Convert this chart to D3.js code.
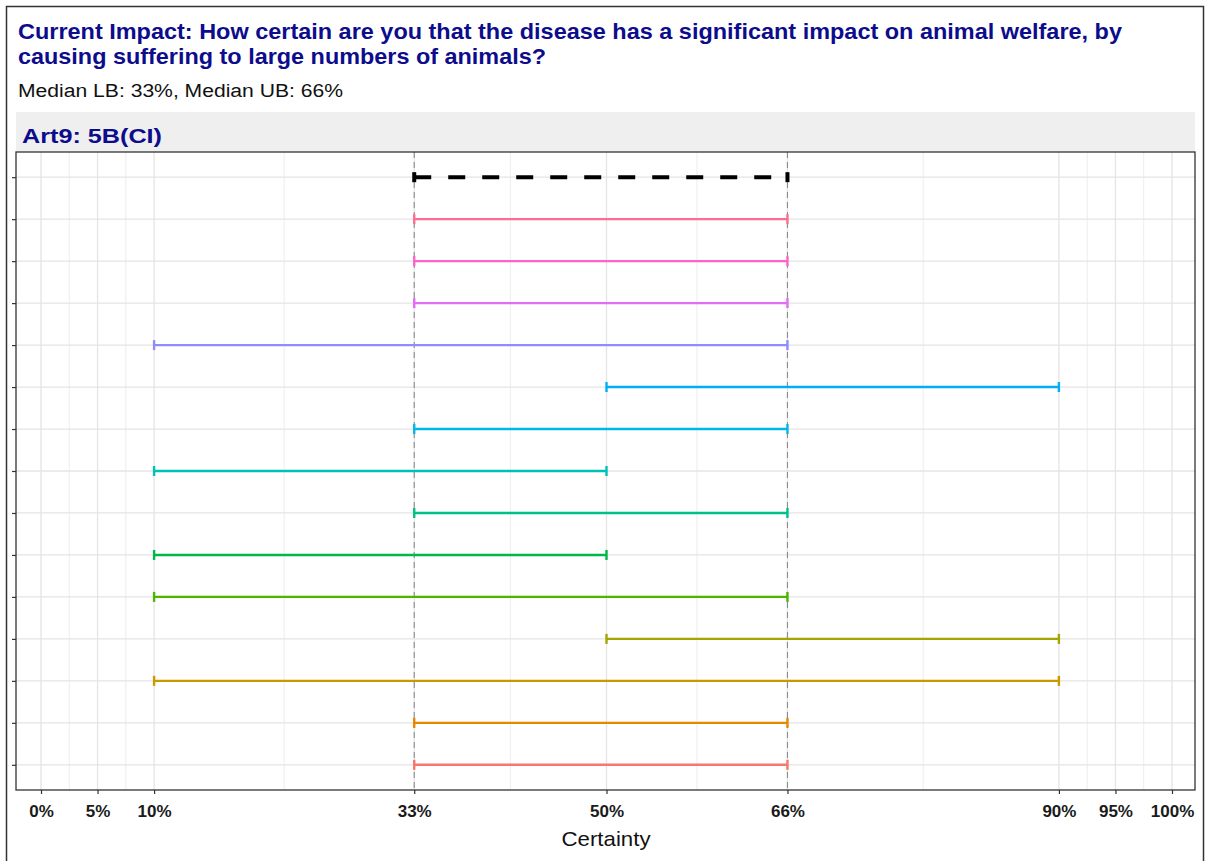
<!DOCTYPE html>
<html>
<head>
<meta charset="utf-8">
<script src="https://cdn.jsdelivr.net/npm/d3@7"></script>
<style>
  html, body { margin: 0; padding: 0; background: #fff; }
  svg { display: block; font-family: "Liberation Sans", Arial, sans-serif; }
</style>
</head>
<body>
<svg id="chart" width="1205" height="861"></svg>
<script>
// Rows, top to bottom: the median interval first, then each expert's interval.
const rowIds = ["median", "e14", "e13", "e12", "e11", "e10", "e9", "e8", "e7", "e6", "e5", "e4", "e3", "e2", "e1"];
const lowerBounds = [33, 33, 33, 33, 10, 50, 33, 10, 33, 10, 10, 50, 10, 33, 33];
const upperBounds = [66, 66, 66, 66, 66, 90, 66, 50, 66, 50, 66, 90, 90, 66, 66];
const rowColors = ["#000000", "#FF6C91", "#FF62C8", "#E46BF3", "#8F8CFF", "#00AEF8", "#00B8E5",
                   "#00C0B8", "#00C08A", "#00B84A", "#4DB400", "#A3A500", "#C99A00", "#E58700", "#F8766D"];
const xTickValues = [0, 5, 10, 33, 50, 66, 90, 95, 100];
const medianLB = 33, medianUB = 66;

const titleLines = [
  "Current Impact: How certain are you that the disease has a significant impact on animal welfare, by",
  "causing suffering to large numbers of animals?"
];
const subtitle = `Median LB: ${medianLB}%, Median UB: ${medianUB}%`;
const stripLabel = "Art9: 5B(CI)";
const xTitle = "Certainty";

const svg = d3.select("#chart");
const navy = "#0C0C8C";

// Outer frame
svg.append("path")
  .attr("d", "M6.5,870 V6.5 H1203.5 V870")
  .attr("fill", "none").attr("stroke", "#333").attr("stroke-width", 1.5);

// Titles
const titleWidths = [1104, 528];
svg.append("g").selectAll("text").data(titleLines).join("text")
  .attr("x", 18).attr("y", (d, i) => 39 + i * 24.5)
  .attr("fill", navy).attr("font-weight", "bold").attr("font-size", 21.5)
  .attr("textLength", (d, i) => titleWidths[i]).attr("lengthAdjust", "spacingAndGlyphs")
  .text(d => d);
svg.append("text").attr("x", 18).attr("y", 97)
  .attr("font-size", 18).attr("fill", "#111")
  .attr("textLength", 325).attr("lengthAdjust", "spacingAndGlyphs")
  .text(subtitle);

// Panel geometry
const panel = { left: 16, right: 1195, top: 152, bottom: 790 };

// Facet strip
svg.append("rect").attr("x", panel.left).attr("y", 112)
  .attr("width", panel.right - panel.left).attr("height", panel.top - 112)
  .attr("fill", "#EFEFEF");
svg.append("text").attr("x", 22).attr("y", 143)
  .attr("fill", navy).attr("font-weight", "bold").attr("font-size", 19.5)
  .attr("textLength", 140).attr("lengthAdjust", "spacingAndGlyphs")
  .text(stripLabel);

// Scales
const x = d3.scaleLinear().domain([0, 100]).range([41, 1172]);
const y = d3.scalePoint().domain(rowIds).range([panel.top, panel.bottom]).padding(0.6);

// Grid
const grid = svg.append("g");
const minorX = d3.pairs(xTickValues).map(([a, b]) => (a + b) / 2);
grid.selectAll("line.minor").data(minorX).join("line")
  .attr("x1", d => x(d)).attr("x2", d => x(d))
  .attr("y1", panel.top).attr("y2", panel.bottom)
  .attr("stroke", "#EDEDED").attr("stroke-width", 1);
grid.selectAll("line.majx").data(xTickValues).join("line")
  .attr("x1", d => x(d)).attr("x2", d => x(d))
  .attr("y1", panel.top).attr("y2", panel.bottom)
  .attr("stroke", "#E4E4E4").attr("stroke-width", 1.3);
grid.selectAll("line.majy").data(rowIds).join("line")
  .attr("x1", panel.left).attr("x2", panel.right)
  .attr("y1", d => y(d)).attr("y2", d => y(d))
  .attr("stroke", "#E4E4E4").attr("stroke-width", 1.3);

// Reference lines at the median bounds
svg.append("g").selectAll("line").data([medianLB, medianUB]).join("line")
  .attr("x1", d => x(d)).attr("x2", d => x(d))
  .attr("y1", panel.top).attr("y2", panel.bottom)
  .attr("stroke", "#8C8C8C").attr("stroke-width", 1.1)
  .attr("stroke-dasharray", "6,4");

// Interval bars
const rows = rowIds.map((id, i) => ({ id, lo: lowerBounds[i], hi: upperBounds[i], color: rowColors[i], median: id === "median" }));
const bars = svg.append("g").selectAll("g").data(rows).join("g");
bars.append("line")
  .attr("x1", d => x(d.lo)).attr("x2", d => x(d.hi))
  .attr("y1", d => y(d.id)).attr("y2", d => y(d.id))
  .attr("stroke", d => d.color)
  .attr("stroke-width", d => d.median ? 4 : 2.4)
  .attr("stroke-dasharray", d => d.median ? "17,17" : null);
bars.selectAll("line.cap").data(d => [d.lo, d.hi].map(v => ({ v, d }))).join("line")
  .attr("x1", c => x(c.v)).attr("x2", c => x(c.v))
  .attr("y1", c => y(c.d.id) - 5).attr("y2", c => y(c.d.id) + 5)
  .attr("stroke", c => c.d.color)
  .attr("stroke-width", c => c.d.median ? 4 : 2.4);

// Panel border
svg.append("rect").attr("x", panel.left).attr("y", panel.top)
  .attr("width", panel.right - panel.left).attr("height", panel.bottom - panel.top)
  .attr("fill", "none").attr("stroke", "#333").attr("stroke-width", 1.3);

// Axes
const xAxis = svg.append("g").attr("transform", `translate(0,${panel.bottom})`)
  .call(d3.axisBottom(x).tickValues(xTickValues).tickFormat(d => d + "%").tickSize(4).tickPadding(11));
xAxis.select(".domain").remove();
xAxis.selectAll("line").attr("stroke", "#333").attr("stroke-width", 1.2);
xAxis.selectAll("text").attr("font-size", 17).attr("font-weight", "bold")
  .attr("fill", "#1a1a1a").attr("font-family", "Liberation Sans, Arial, sans-serif");

const yAxis = svg.append("g").attr("transform", `translate(${panel.left},0)`)
  .call(d3.axisLeft(y).tickFormat("").tickSize(4));
yAxis.select(".domain").remove();
yAxis.selectAll("line").attr("stroke", "#333").attr("stroke-width", 1.2);

svg.append("text").attr("x", 606).attr("y", 846)
  .attr("text-anchor", "middle").attr("font-size", 21).attr("fill", "#111")
  .attr("textLength", 89).attr("lengthAdjust", "spacingAndGlyphs")
  .text(xTitle);
</script>
</body>
</html>
